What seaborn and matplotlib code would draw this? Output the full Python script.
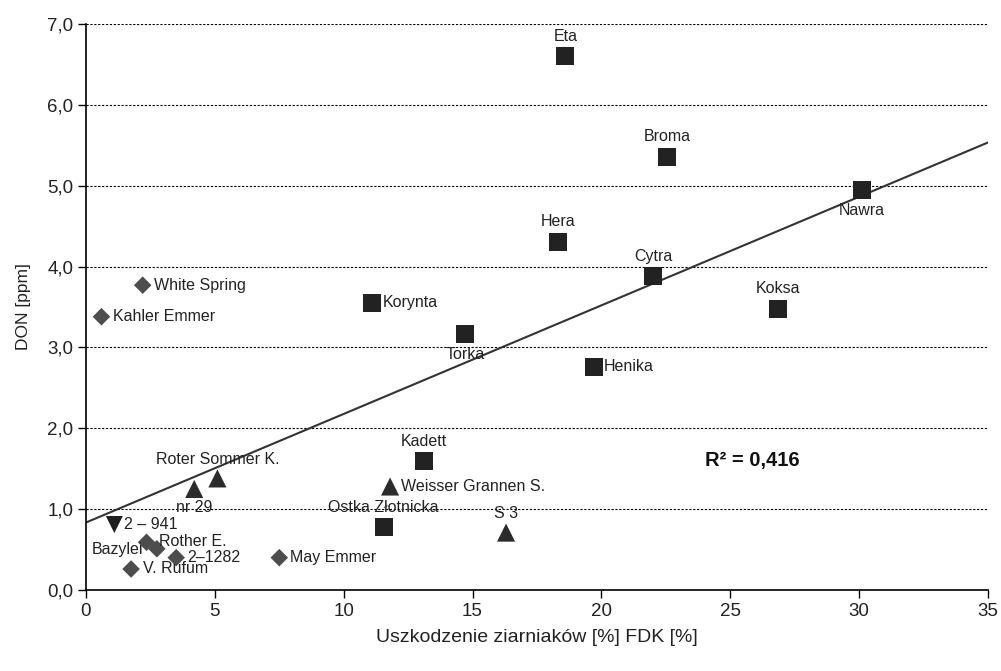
import matplotlib
matplotlib.use("Agg")
import matplotlib.pyplot as plt
import seaborn as sns
import pandas as pd
import numpy as np
from matplotlib.ticker import FuncFormatter, MultipleLocator

# ---- data ----
names = ["Eta", "Broma", "Nawra", "Hera", "Cytra", "Koksa", "Korynta", "Torka",
         "Henika", "Kadett", "Ostka Złotnicka",
         "Roter Sommer K.", "nr 29", "Weisser Grannen S.", "S 3",
         "2 – 941",
         "White Spring", "Kahler Emmer", "Bazylei", "Rother E.", "2–1282",
         "V. Rufum", "May Emmer"]
fdk = [18.6, 22.55, 30.1, 18.3, 22.0, 26.85, 11.1, 14.7,
       19.7, 13.1, 11.55,
       5.1, 4.2, 11.8, 16.3,
       1.1,
       2.2, 0.6, 2.35, 2.75, 3.5,
       1.75, 7.5]
don = [6.6, 5.35, 4.95, 4.3, 3.88, 3.47, 3.55, 3.17,
       2.76, 1.6, 0.78,
       1.38, 1.25, 1.28, 0.71,
       0.81,
       3.77, 3.38, 0.59, 0.51, 0.40,
       0.26, 0.40]
groups = ["sq"] * 11 + ["up"] * 4 + ["down"] + ["dia"] * 7
# label offsets (pixels) and alignment
label_pos = {
    "Eta": (0, 12, "center", "bottom"),
    "Broma": (0, 13, "center", "bottom"),
    "Nawra": (0, -13, "center", "top"),
    "Hera": (0, 13, "center", "bottom"),
    "Cytra": (0, 12, "center", "bottom"),
    "Koksa": (0, 13, "center", "bottom"),
    "Korynta": (11, 0, "left", "center"),
    "Torka": (0, -13, "center", "top"),
    "Henika": (10, 0, "left", "center"),
    "Kadett": (0, 12, "center", "bottom"),
    "Ostka Złotnicka": (0, 12, "center", "bottom"),
    "Roter Sommer K.": (0, 11, "center", "bottom"),
    "nr 29": (0, -11, "center", "top"),
    "Weisser Grannen S.": (11, 0, "left", "center"),
    "S 3": (0, 12, "center", "bottom"),
    "2 – 941": (10, 0, "left", "center"),
    "White Spring": (11, 0, "left", "center"),
    "Kahler Emmer": (12, 0, "left", "center"),
    "Bazylei": (-3, -7, "right", "center"),
    "Rother E.": (2, 7, "left", "center"),
    "2–1282": (11, 0, "left", "center"),
    "V. Rufum": (12, 0, "left", "center"),
    "May Emmer": (11, 0, "left", "center"),
}

df = pd.DataFrame({"name": names, "FDK": fdk, "DON": don, "group": groups})

sns.set_style("white")
plt.rcParams["font.family"] = ["Liberation Sans", "DejaVu Sans"]

fig = plt.figure(figsize=(10.01, 6.71), dpi=100)
ax = fig.add_axes([0.0859, 0.1207, 0.9011, 0.8435])
ax.set_xlim(0, 35)
ax.set_ylim(0, 7)

marker_map = {"sq": "s", "up": "^", "down": "v", "dia": "D"}
color_map = {"sq": "#222222", "up": "#2b2b2b", "down": "#1e1e1e", "dia": "#4d4d4d"}
size_map = {"sq": 170, "up": 170, "down": 150, "dia": 80}

for g in ["sq", "up", "down", "dia"]:
    sub = df[df.group == g]
    sns.scatterplot(data=sub, x="FDK", y="DON", marker=marker_map[g],
                    color=color_map[g], s=size_map[g], edgecolor="none",
                    ax=ax, legend=False, zorder=3)

ax.set_xlim(0, 35)
sns.regplot(data=df, x="FDK", y="DON", scatter=False, ci=None, truncate=False,
            color="#333333", line_kws={"lw": 1.5, "zorder": 2}, ax=ax)

for n, x, y in zip(names, fdk, don):
    dx, dy, ha, va = label_pos[n]
    ax.annotate(n, (x, y), xytext=(dx, dy), textcoords="offset pixels",
                ha=ha, va=va, fontsize=11.5, color="#222222", zorder=4)

ax.set_xlim(0, 35)
ax.set_ylim(0, 7)
ax.xaxis.set_major_locator(MultipleLocator(5))
ax.yaxis.set_major_locator(MultipleLocator(1))
ax.yaxis.set_major_formatter(FuncFormatter(lambda v, p: f"{v:.1f}".replace(".", ",")))
ax.xaxis.set_major_formatter(FuncFormatter(lambda v, p: f"{int(v)}"))

ax.grid(axis="y", color="#000000", linestyle=(0, (2, 1.5)), linewidth=0.8)
ax.grid(axis="x", visible=False)
ax.set_axisbelow(True)
for s in ["top", "right"]:
    ax.spines[s].set_visible(False)
for s in ["left", "bottom"]:
    ax.spines[s].set_color("#000000")
    ax.spines[s].set_linewidth(1.2)

ax.tick_params(axis="both", which="major", direction="out", length=6, width=1,
               color="#000000", labelsize=13.5, labelcolor="#222222", pad=3,
               left=True, bottom=True)

ax.set_xlabel("Uszkodzenie ziarniaków [%] FDK [%]", fontsize=14, color="#222222", labelpad=7)
ax.set_ylabel("DON [ppm]", fontsize=12.5, color="#222222", labelpad=12)

ax.text(25.85, 1.6, "R² = 0,416", fontsize=14.5, fontweight="bold", color="#111111",
        ha="center", va="center")

fig.savefig("out.png", dpi=100)
